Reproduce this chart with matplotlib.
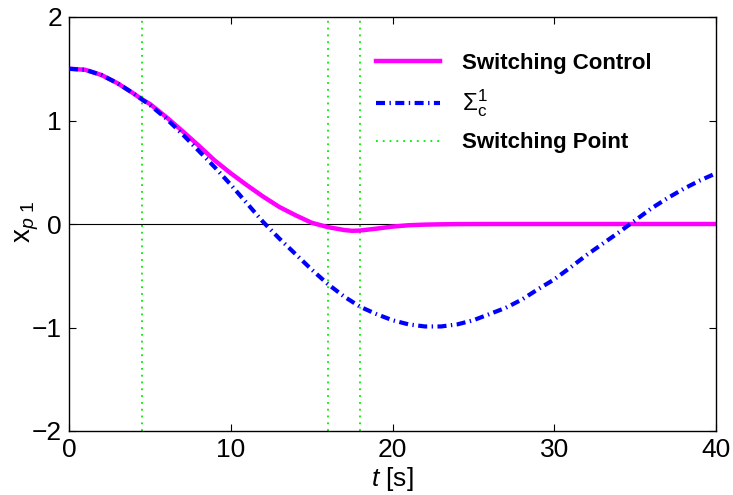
import matplotlib
matplotlib.use("Agg")
import matplotlib.pyplot as plt

plt.rcParams["font.family"] = ["Liberation Sans", "DejaVu Sans"]
plt.rcParams["mathtext.fontset"] = "custom"
plt.rcParams["mathtext.rm"] = "Liberation Sans"
plt.rcParams["mathtext.it"] = "Liberation Sans:italic"
plt.rcParams["mathtext.bf"] = "Liberation Sans:bold"
plt.rcParams["lines.scale_dashes"] = False

# Open-loop response of subsystem Sigma_c^1
t_sigma = list(range(0, 41))
x_sigma = [1.50, 1.49, 1.44, 1.36, 1.26, 1.15, 1.02, 0.87, 0.71, 0.55,
           0.38, 0.20, 0.02, -0.14, -0.29, -0.44, -0.58, -0.70, -0.80, -0.87,
           -0.93, -0.97, -0.99, -0.99, -0.97, -0.93, -0.87, -0.81, -0.73, -0.63,
           -0.535, -0.42, -0.30, -0.19, -0.08, 0.035, 0.15, 0.25, 0.34, 0.42,
           0.49]

# Response under the switching controller
t_ctrl = [0, 1, 2, 3, 4, 4.5, 5, 6, 7, 8, 9, 10, 11, 12, 13, 14, 15, 16, 17,
          17.5, 18, 19, 20, 21, 22, 23, 24, 26, 28, 30, 32, 34, 36, 38, 40]
x_ctrl = [1.50, 1.49, 1.44, 1.36, 1.26, 1.205, 1.16, 1.035, 0.90, 0.76,
          0.615, 0.49, 0.375, 0.265, 0.165, 0.085, 0.012, -0.03, -0.058,
          -0.066, -0.063, -0.045, -0.025, -0.012, -0.006, -0.003, -0.001,
          0.0, 0.0, 0.0, 0.0, 0.0, 0.0, 0.0, 0.0]

# Switching instants
t_switch = [4.5, 16.0, 18.0]

x_ticks = [0, 10, 20, 30, 40]
y_ticks = [-2, -1, 0, 1, 2]

fig = plt.figure(figsize=(7.33, 4.95), dpi=100)
ax = fig.add_axes([69 / 733, (495 - 431) / 495, 647 / 733, 414 / 495])

ax.axhline(0, color="black", lw=0.8, zorder=1.5)

for i, ts in enumerate(t_switch):
    ax.axvline(ts, color="#11ee11", lw=1.4, ls=(0, (1.3, 3.6)), zorder=1,
               label="Switching Point" if i == 0 else None)

ax.plot(t_ctrl, x_ctrl, color="#ff00ff", lw=3.2, zorder=2,
        label="Switching Control")
ax.plot(t_sigma, x_sigma, color="#0000ff", lw=3.0,
        ls=(0, (6.5, 3.2, 1.0, 3.2)), zorder=3,
        label=r"$\Sigma_{\mathrm{c}}^{1}$")

ax.set_xlim(0, 40)
ax.set_ylim(-2, 2)
ax.set_xticks(x_ticks)
ax.set_yticks(y_ticks)
ax.tick_params(direction="in", length=5, width=0.8, labelsize=19, pad=5,
               top=True, right=True)
for sp in ax.spines.values():
    sp.set_linewidth(1.0)

ax.set_xlabel(r"$\mathit{t}$ [s]", fontsize=19, labelpad=2)
ax.set_ylabel(r"$\mathrm{x}_{\mathit{p}\ 1}$", fontsize=20)
ax.yaxis.set_label_coords(-0.044, 0.505)

handles, labels = ax.get_legend_handles_labels()
order = [labels.index("Switching Control"),
         labels.index(r"$\Sigma_{\mathrm{c}}^{1}$"),
         labels.index("Switching Point")]
leg = ax.legend([handles[i] for i in order], [labels[i] for i in order],
                loc="upper left", bbox_to_anchor=(0.474, 0.913),
                frameon=False, borderpad=0, borderaxespad=0,
                handlelength=2.9, handletextpad=1.0, labelspacing=0.6,
                prop={"size": 16, "weight": "bold"})
for txt in leg.get_texts():
    if "Sigma" in txt.get_text():
        txt.set_fontweight("normal")
        txt.set_fontsize(17.5)

fig.savefig("out.png", dpi=100)
